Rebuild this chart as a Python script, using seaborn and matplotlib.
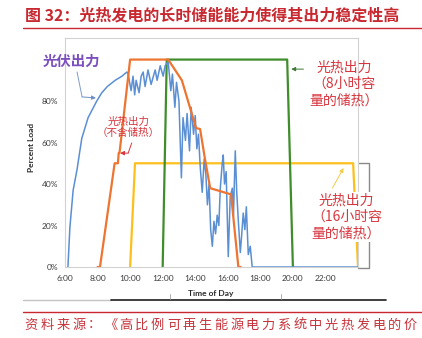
import matplotlib
matplotlib.use("Agg")
import matplotlib.pyplot as plt
import pandas as pd
import seaborn as sns
from matplotlib.lines import Line2D

# ---- data -------------------------------------------------------------
# Photovoltaic output: hour of day vs. share of load
pv_hours = [6.18, 6.3, 6.5, 6.74, 7.03, 7.42, 7.95, 8.26, 8.6, 9.08, 9.5, 9.8,
            9.88, 10.06, 10.18, 10.28, 10.37, 10.55, 10.68, 10.8, 10.92, 11.1,
            11.29, 11.54, 11.66, 11.85, 12.03, 12.15, 12.34,
            12.5, 12.6, 12.75, 12.85, 13.0, 13.15, 13.25, 13.4, 13.5, 13.65,
            13.75, 13.9, 14.0, 14.1, 14.2, 14.31, 14.43, 14.55, 14.65, 14.75,
            14.85, 14.95, 15.05, 15.15, 15.25, 15.35, 15.45, 15.54, 15.66,
            15.72, 15.8, 15.9, 16.03, 16.15, 16.28, 16.35, 16.46, 16.55, 16.65,
            16.77, 16.85, 16.95, 17.05, 17.14, 17.26, 17.38, 17.5, 24.0]
pv_load = [0.0, 0.19, 0.37, 0.47, 0.62, 0.72, 0.80, 0.84, 0.87, 0.90, 0.92, 0.94,
           0.93, 0.85, 0.92, 0.83, 0.90, 0.84, 0.92, 0.94, 0.87, 0.95,
           0.88, 0.95, 0.90, 0.97, 0.92, 0.97, 0.99,
           0.85, 0.93, 0.77, 0.89, 0.80, 0.43, 0.72, 0.61, 0.74, 0.56,
           0.77, 0.64, 0.73, 0.57, 0.64, 0.48, 0.36, 0.52, 0.45, 0.30,
           0.40, 0.18, 0.10, 0.22, 0.16, 0.25, 0.20, 0.38, 0.50,
           0.54, 0.40, 0.46, 0.05, 0.34, 0.38, 0.25, 0.56, 0.36, 0.22,
           0.07, 0.15, 0.26, 0.18, 0.29, 0.06, 0.10, 0.0, 0.0]

# Solar thermal output without storage
csp_hours = [8.0, 8.15, 9.05, 9.25, 9.3, 9.35, 10.0, 12.34, 13.18, 14.05,
             14.3, 14.6, 14.92, 16.2, 16.65, 16.8]
csp_load = [0.0, 0.0, 0.50, 0.50, 0.55, 0.55, 1.0, 1.0, 0.90, 0.67,
            0.665, 0.52, 0.38, 0.35, 0.0, 0.0]

# Solar thermal output with 8 h storage
csp8_hours = [12.0, 12.25, 19.65, 20.0]
csp8_load = [0.0, 1.0, 1.0, 0.0]

# Solar thermal output with 16 h storage
csp16_hours = [10.0, 10.3, 23.7, 24.0]
csp16_load = [0.0, 0.5, 0.5, 0.0]

x_ticks = [6, 8, 10, 12, 14, 16, 18, 20, 22]
x_tick_labels = ["6:00", "8:00", "10:00", "12:00", "14:00", "16:00",
                 "18:00", "20:00", "22:00"]
y_ticks = [0.0, 0.2, 0.4, 0.6, 0.8]
y_tick_labels = ["0%", "20%", "40%", "60%", "80%"]

title = "图 32：光热发电的长时储能能力使得其出力稳定性高"
source = "资料来源：《高比例可再生能源电力系统中光热发电的价"

# ---- style ------------------------------------------------------------
sns.set_theme(style="white")
plt.rcParams["font.family"] = ["Noto Sans CJK SC", "DejaVu Sans"]

RED = "#c8282f"
ANN_RED = "#d8363e"
BLUE = "#5b8fd3"
ORANGE = "#ee7431"
GREEN = "#3f8d2b"
YELLOW = "#fdbf1c"

W, H = 422, 338


def fx(px):
    return px / W


def fy(py):
    return 1 - py / H


fig = plt.figure(figsize=(W / 100, H / 100), dpi=100)
ax = fig.add_axes([fx(65), fy(267), (358 - 65) / W, (267 - 38) / H])

series = [
    (csp16_hours, csp16_load, YELLOW, 1.6),
    (csp8_hours, csp8_load, GREEN, 1.6),
    (pv_hours, pv_load, BLUE, 1.1),
    (csp_hours, csp_load, ORANGE, 1.6),
]
for hrs, vals, color, lw in series:
    df = pd.DataFrame({"hour": hrs, "load": vals})
    sns.lineplot(data=df, x="hour", y="load", ax=ax, color=color, lw=lw,
                 estimator=None, sort=False, legend=False)
for line in ax.lines:
    line.set_clip_on(False)

ax.set_xlim(6, 24)
ax.set_ylim(0, 1.104)
ax.set_xticks(x_ticks, x_tick_labels)
ax.set_yticks(y_ticks, y_tick_labels)
ax.set_xlabel("")
ax.set_ylabel("")
ax.tick_params(axis="x", length=0, labelsize=6, colors="#3c3c3c", pad=5.5)
ax.tick_params(axis="y", length=0, labelsize=6, colors="#3c3c3c", pad=5)
for lbl in ax.get_xticklabels() + ax.get_yticklabels():
    lbl.set_fontfamily("Lato")
for sp in ax.spines.values():
    sp.set_color("#d2d2d2")
    sp.set_linewidth(0.8)

fig.text(fx(211), fy(293.5), "Time of Day", fontsize=6, weight="bold",
         family="Lato", color="#2a2a2a", ha="center", va="center")
fig.text(fx(31.5), fy(147.5), "Percent Load", fontsize=6, weight="bold",
         family="Lato", color="#2a2a2a", ha="center", va="center", rotation=90)

# ---- annotations (data units: hour, share of load) ---------------------
arrow_kw = dict(arrowstyle="-|>", lw=0.7, mutation_scale=6, shrinkA=0, shrinkB=0)

ax.text(6.37, 0.99, "光伏出力", color="#7b4fbe", fontsize=10.4, weight="bold",
        ha="center", va="center", clip_on=False)
ax.plot([6.74, 7.05], [0.94, 0.82], color="#7f9cc8", lw=0.7, clip_on=False)
ax.annotate("", xy=(7.9, 0.815), xytext=(7.05, 0.82),
            arrowprops=dict(color="#6f8fc4", **arrow_kw), annotation_clip=False)

ax.text(9.88, 0.672, "光热出力\n（不含储热）", color=ANN_RED, fontsize=7.6,
        ha="center", va="center", multialignment="center", linespacing=1.15,
        clip_on=False)
ax.plot([10.10, 9.88], [0.598, 0.549], color=ANN_RED, lw=0.7, clip_on=False)
ax.annotate("", xy=(9.385, 0.549), xytext=(9.88, 0.549),
            arrowprops=dict(color=ANN_RED, **arrow_kw), annotation_clip=False)

ax.text(23.17, 0.882, "光热出力\n（8小时容\n量的储热）", color=ANN_RED,
        fontsize=10, ha="center", va="center", multialignment="center",
        clip_on=False)
ax.annotate("", xy=(19.9, 0.954), xytext=(20.65, 0.954),
            arrowprops=dict(color="#3d7a34", **arrow_kw), annotation_clip=False)

ax.plot([23.97, 24.65, 24.65, 23.97], [0.501, 0.501, -0.005, -0.005],
        color="#8a8a8a", lw=1.0, clip_on=False)
ax.text(23.29, 0.241, "光热出力\n（16小时容\n量的储热）", color=ANN_RED,
        fontsize=10, ha="center", va="center", multialignment="center",
        bbox=dict(facecolor="white", edgecolor="none", pad=1.5),
        clip_on=False, zorder=5)
ax.annotate("", xy=(23.11, 0.477), xytext=(22.43, 0.381),
            arrowprops=dict(color="#f3cb4a", **arrow_kw), annotation_clip=False)

# ---- page header and footer ---------------------------------------------
fig.text(fx(25), fy(16), title, color=RED, fontsize=11.5, weight="bold",
         ha="left", va="center")
fig.add_artist(Line2D([fx(23), 1], [fy(28), fy(28)], color=RED, lw=1))

fig.add_artist(Line2D([fx(23), fx(111)], [fy(300), fy(300)], color="#c4c4c4", lw=1))
fig.add_artist(Line2D([fx(111), fx(386)], [fy(300), fy(300)], color="#1e1e1e", lw=1.2))
for tx in (170, 281):
    fig.add_artist(Line2D([fx(tx), fx(tx)], [fy(294), fy(299)], color="#a0a0a0", lw=0.6))

fig.add_artist(Line2D([fx(23), 1], [fy(312), fy(312)], color=RED, lw=1))
pitch = 15.8
for i, ch in enumerate(source):
    fig.text(fx(31.25 + pitch * i), fy(325), ch, color="#c8343c", fontsize=9.5,
             ha="center", va="center")

fig.savefig("out.png", dpi=100)
